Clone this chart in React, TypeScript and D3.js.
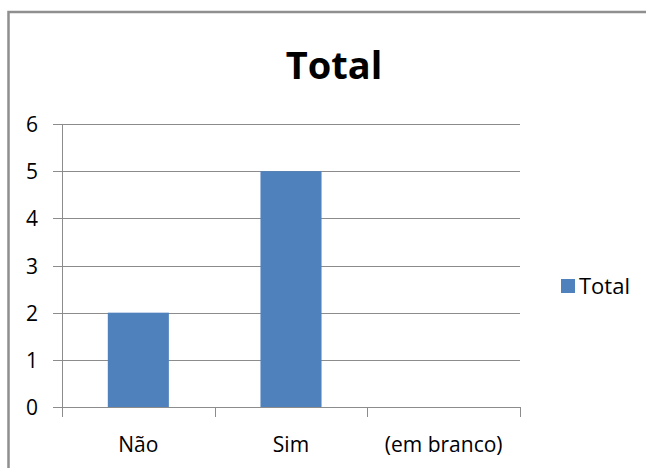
import React from "react";
import * as d3 from "d3";

const categories = ["Não", "Sim", "(em branco)"];
const values = [2, 5, 0];
const yTicks = [0, 1, 2, 3, 4, 5, 6];
const seriesName = "Total";
const title = "Total";

const W = 646;
const H = 468;
const FONT = "'Open Sans', 'Noto Sans', sans-serif";

export default function App() {
  const x = d3.scaleBand<string>().domain(categories).range([62, 520]).paddingInner(0).paddingOuter(0);
  const y = d3.scaleLinear().domain([0, 6]).range([407, 124]);
  const barW = x.bandwidth() * 0.4;
  const gridColor = "#8c8c8c";
  return (
    <svg width={W} height={H} style={{ position: "absolute", left: 0, top: 0, background: "#fff" }}>
      <rect x={8.5} y={12} width={W} height={H} fill="#fff" stroke="#8f8f8f" strokeWidth={2.5} />
      <text x={334} y={79} textAnchor="middle" fontFamily={FONT} fontWeight="bold" fontSize={38} fill="#000">{title}</text>
      {yTicks.map((t) => (
        <g key={t}>
          <line x1={53} x2={520} y1={Math.round(y(t)) + 0.5} y2={Math.round(y(t)) + 0.5} stroke={gridColor} strokeWidth={1} />
          <text x={38} y={y(t) + 8} textAnchor="end" fontFamily={FONT} fontSize={21} fill="#000">{t}</text>
        </g>
      ))}
      <line x1={62.5} x2={62.5} y1={124} y2={417} stroke={gridColor} strokeWidth={1} />
      {categories.map((c, i) => (
        <g key={c}>
          <line x1={Math.round((x(c) as number) + x.bandwidth()) + 0.5} x2={Math.round((x(c) as number) + x.bandwidth()) + 0.5} y1={407} y2={417} stroke={gridColor} />
          <rect x={(x(c) as number) + (x.bandwidth() - barW) / 2} y={y(values[i])} width={barW} height={y(0) - y(values[i])} fill="#4f81bd" />
          <text x={(x(c) as number) + x.bandwidth() / 2} y={452} textAnchor="middle" fontFamily={FONT} fontSize={21} fill="#000">{c}</text>
        </g>
      ))}
      <rect x={561} y={279} width={14} height={14} fill="#4f81bd" />
      <text x={579} y={294} fontFamily={FONT} fontSize={22} fill="#000">{seriesName}</text>
    </svg>
  );
}
